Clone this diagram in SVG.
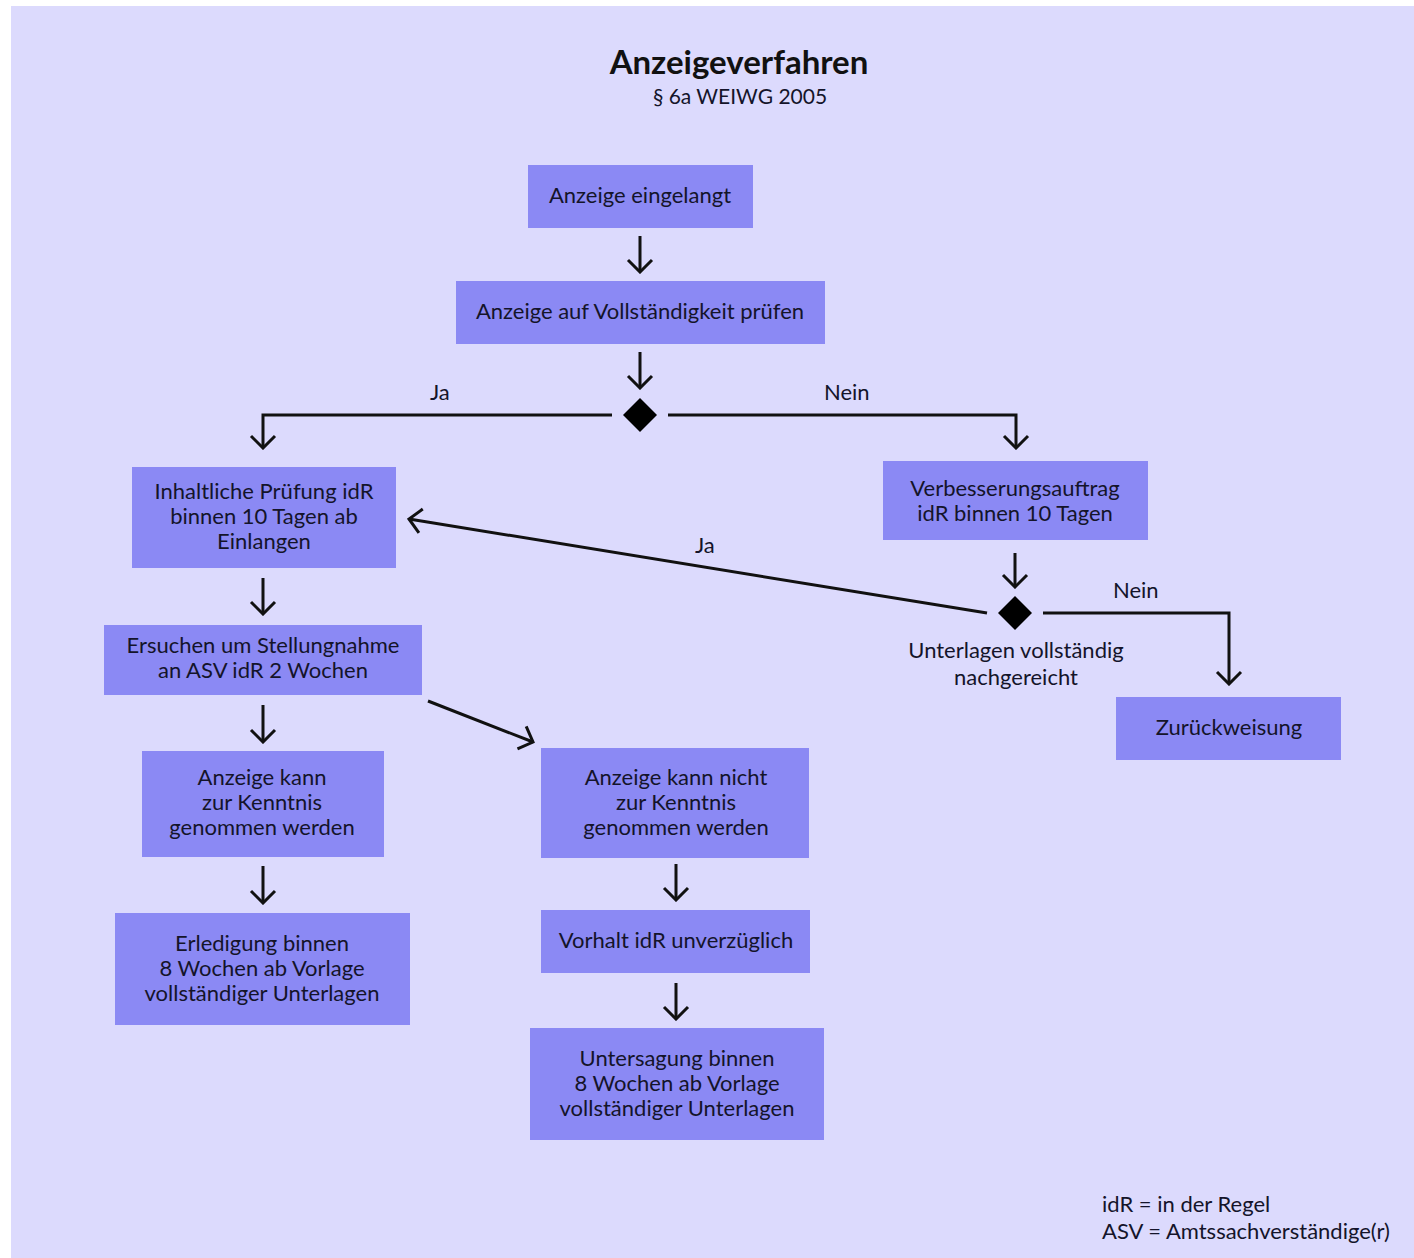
<svg xmlns="http://www.w3.org/2000/svg" width="1414" height="1258" viewBox="0 0 1414 1258">
<defs>
<style>
.bg{fill:#dcdafd}
.box{fill:#8b89f4}
.t{font-family:Lato,"Open Sans","Liberation Sans",sans-serif;font-size:22px;fill:#14142a;text-anchor:middle}
.l{font-family:Lato,"Open Sans","Liberation Sans",sans-serif;font-size:22px;fill:#14142a}
.c{fill:none;stroke:#111;stroke-width:3}
.d{fill:#000}
</style>
<marker id="ah" viewBox="-14 -15 16 30" refX="0" refY="0" markerWidth="16" markerHeight="30" markerUnits="userSpaceOnUse" orient="auto">
<path d="M-12,-12 L0,0 L-12,12" fill="none" stroke="#111" stroke-width="3"/>
</marker>
</defs>
<rect x="0" y="0" width="1414" height="1258" fill="#fff"/>
<rect class="bg" x="11" y="6" width="1403" height="1252"/>

<g id="title">
<text x="739" y="74" style="font-family:Lato,'Open Sans','Liberation Sans',sans-serif;font-size:33px;font-weight:bold;fill:#111;text-anchor:middle">Anzeigeverfahren</text>
<text x="740" y="104" class="t" style="font-size:21px">§ 6a WEIWG 2005</text>
</g>

<g id="connectors">
<line class="c" x1="640" y1="236" x2="640" y2="272" marker-end="url(#ah)"/>
<line class="c" x1="640" y1="352" x2="640" y2="388" marker-end="url(#ah)"/>
<polyline class="c" points="612,415 263,415 263,448" marker-end="url(#ah)"/>
<polyline class="c" points="668,415 1016,415 1016,448" marker-end="url(#ah)"/>
<line class="c" x1="1015" y1="553" x2="1015" y2="587" marker-end="url(#ah)"/>
<line class="c" x1="987" y1="613" x2="409" y2="519" marker-end="url(#ah)"/>
<polyline class="c" points="1043,613 1229,613 1229,684" marker-end="url(#ah)"/>
<line class="c" x1="263" y1="578" x2="263" y2="614" marker-end="url(#ah)"/>
<line class="c" x1="263" y1="705" x2="263" y2="742" marker-end="url(#ah)"/>
<line class="c" x1="428" y1="701" x2="533" y2="742" marker-end="url(#ah)"/>
<line class="c" x1="263" y1="866" x2="263" y2="903" marker-end="url(#ah)"/>
<line class="c" x1="676" y1="864" x2="676" y2="900" marker-end="url(#ah)"/>
<line class="c" x1="676" y1="983" x2="676" y2="1019" marker-end="url(#ah)"/>
<text class="l" x="430" y="400">Ja</text>
<text class="l" x="824" y="400">Nein</text>
<text class="l" x="695" y="553">Ja</text>
<text class="l" x="1113" y="598">Nein</text>
</g>

<g id="n1"><rect class="box" x="528" y="165" width="225" height="63"/><text class="t" x="640" y="203">Anzeige eingelangt</text></g>
<g id="n2"><rect class="box" x="456" y="281" width="369" height="63"/><text class="t" x="640" y="319">Anzeige auf Vollständigkeit prüfen</text></g>
<g id="d1"><polygon class="d" points="640,398 657,415 640,432 623,415"/></g>
<g id="n3"><rect class="box" x="132" y="467" width="264" height="101"/><text class="t" x="264" y="499">Inhaltliche Prüfung idR</text><text class="t" x="264" y="524">binnen 10 Tagen ab</text><text class="t" x="264" y="549">Einlangen</text></g>
<g id="n4"><rect class="box" x="883" y="461" width="265" height="79"/><text class="t" x="1015" y="496">Verbesserungsauftrag</text><text class="t" x="1015" y="521">idR binnen 10 Tagen</text></g>
<g id="d2"><polygon class="d" points="1015,596 1032,613 1015,630 998,613"/><text class="t" x="1016" y="658">Unterlagen vollständig</text><text class="t" x="1016" y="685">nachgereicht</text></g>
<g id="n5"><rect class="box" x="1116" y="697" width="225" height="63"/><text class="t" x="1229" y="735">Zurückweisung</text></g>
<g id="n6"><rect class="box" x="104" y="625" width="318" height="70"/><text class="t" x="263" y="653">Ersuchen um Stellungnahme</text><text class="t" x="263" y="678">an ASV idR 2 Wochen</text></g>
<g id="n7"><rect class="box" x="142" y="751" width="242" height="106"/><text class="t" x="262" y="785">Anzeige kann</text><text class="t" x="262" y="810">zur Kenntnis</text><text class="t" x="262" y="835">genommen werden</text></g>
<g id="n8"><rect class="box" x="541" y="748" width="268" height="110"/><text class="t" x="676" y="785">Anzeige kann nicht</text><text class="t" x="676" y="810">zur Kenntnis</text><text class="t" x="676" y="835">genommen werden</text></g>
<g id="n9"><rect class="box" x="115" y="913" width="295" height="112"/><text class="t" x="262" y="951">Erledigung binnen</text><text class="t" x="262" y="976">8 Wochen ab Vorlage</text><text class="t" x="262" y="1001">vollständiger Unterlagen</text></g>
<g id="n10"><rect class="box" x="541" y="910" width="269" height="63"/><text class="t" x="676" y="948">Vorhalt idR unverzüglich</text></g>
<g id="n11"><rect class="box" x="530" y="1028" width="294" height="112"/><text class="t" x="677" y="1066">Untersagung binnen</text><text class="t" x="677" y="1091">8 Wochen ab Vorlage</text><text class="t" x="677" y="1116">vollständiger Unterlagen</text></g>

<g id="legend">
<text class="l" x="1102" y="1212">idR = in der Regel</text>
<text class="l" x="1102" y="1239">ASV = Amtssachverständige(r)</text>
</g>
</svg>
